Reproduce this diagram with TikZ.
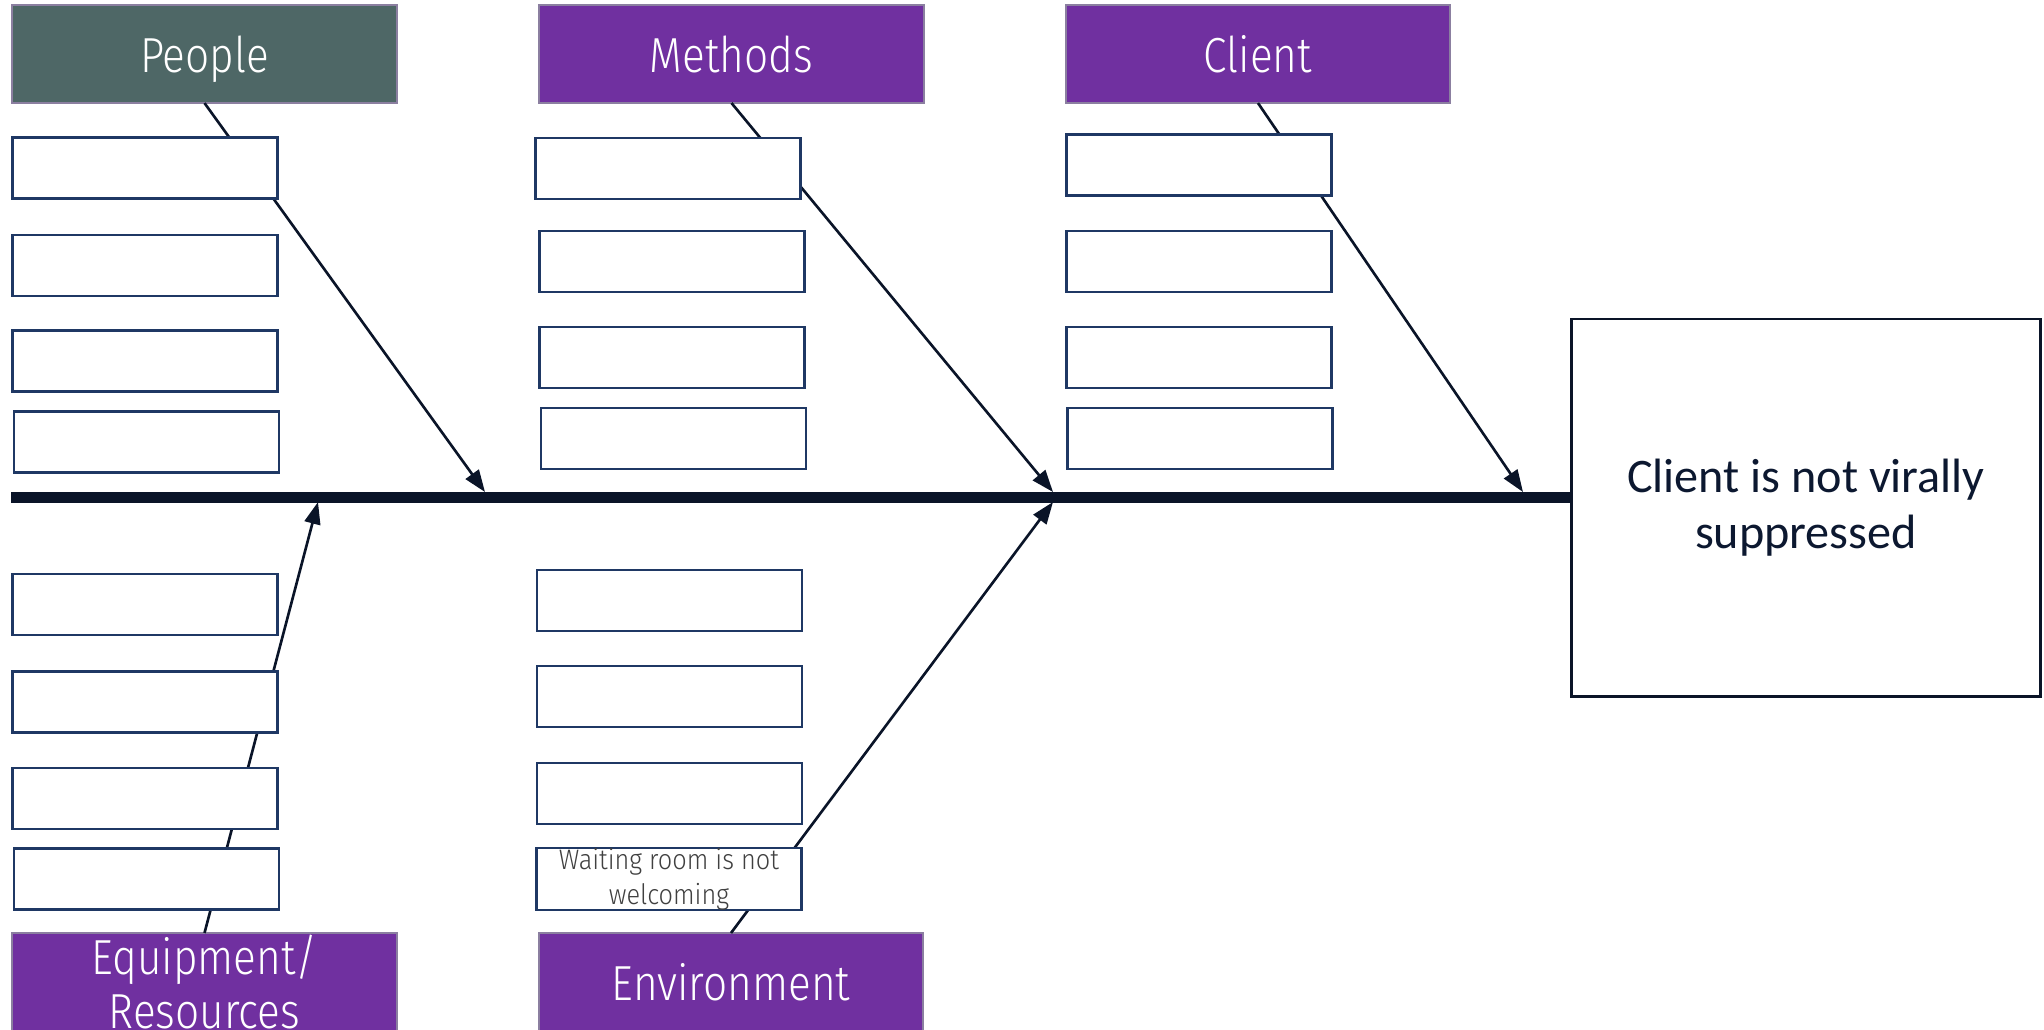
\documentclass[tikz,border=0pt]{standalone}
\usepackage{fontspec}
\setmainfont{Carlito}
\newfontfamily\catfont[FakeStretch=0.86]{Fira Sans Light}
\newfontfamily\smallfont[FakeStretch=0.9]{Fira Sans Light}
\usetikzlibrary{arrows.meta}
\definecolor{purp}{HTML}{7030A0}
\definecolor{peoplecol}{HTML}{4E6766}
\definecolor{catborder}{HTML}{8B7FA0}
\definecolor{itemborder}{HTML}{1F3864}
\definecolor{spinecol}{HTML}{0A1428}
\definecolor{maintext}{HTML}{0C1830}
\definecolor{graytext}{HTML}{404040}
\tikzset{
  catbox/.style={draw=catborder, line width=0.6pt, fill=purp, text=white,
    font=\catfont\fontsize{14}{15.6}\selectfont, minimum width=3.84cm,
    minimum height=0.98cm, inner sep=0pt, outer sep=0pt, align=center},
  itembox/.style={draw=itemborder, line width=0.75pt, fill=white,
    minimum width=2.65cm, minimum height=0.61cm, inner sep=0pt, outer sep=0pt, align=center},
  arr/.style={draw=spinecol, line width=0.75pt, -{Triangle[length=0.22cm,width=0.16cm]}},
  spineline/.style={draw=spinecol, line width=0.11cm},
}
\begin{document}
\begin{tikzpicture}[x=0.01cm,y=-0.01cm]
\useasboundingbox (0,0) rectangle (2044,1029);
% category boxes
\node[catbox, fill=peoplecol, text depth=0pt] (people) at (204.5,54) {People};
\node[catbox] (methods) at (731.5,54) {Methods};
\node[catbox] (client) at (1258,54) {Client};
\node[catbox] (equip) at (204.5,982) {Equipment/\\Resources};
\node[catbox] (env) at (731,982) {Environment};
% effect box
\node[draw=spinecol, line width=0.8pt, fill=white, minimum width=4.68cm, minimum height=3.77cm,
  inner sep=0pt, outer sep=0pt, align=center, text=maintext,
  font=\fontsize{13.7}{16}\selectfont] (main) at (1806,507.5) {Client is not virally\\suppressed};
% spine
\coordinate (s0) at (11,497);
\coordinate (s1) at (1572,497);
\draw[spineline] (s0) -- (s1);
% arrow tips
\coordinate (pT) at (485,492);
\coordinate (mT) at (1053,492);
\coordinate (cT) at (1523,492);
\coordinate (eT) at (318,502);
\coordinate (vT) at (1053,502);
\draw[arr] (people.south) -- (pT);
\draw[arr] (methods.south) -- (mT);
\draw[arr] (client.south) -- (cT);
\draw[arr] (equip.north) -- (eT);
\draw[arr] (env.north) -- (vT);
% item boxes
\node[itembox] (p1) at (145,168) {};
\node[itembox] (p2) at (145,265.5) {};
\node[itembox] (p3) at (145,361) {};
\node[itembox] (p4) at (146.5,442) {};
\node[itembox] (m1) at (668,168.5) {};
\node[itembox] (m2) at (672,261.5) {};
\node[itembox] (m3) at (672,357.5) {};
\node[itembox] (m4) at (673.5,438.5) {};
\node[itembox] (c1) at (1199,165) {};
\node[itembox] (c2) at (1199,261.5) {};
\node[itembox] (c3) at (1199,357.5) {};
\node[itembox] (c4) at (1200,438.5) {};
\node[itembox] (e1) at (145,604.5) {};
\node[itembox] (e2) at (145,702) {};
\node[itembox] (e3) at (145,798.5) {};
\node[itembox] (e4) at (146.5,879) {};
\node[itembox] (v1) at (669.5,600.5) {};
\node[itembox] (v2) at (669.5,696.5) {};
\node[itembox] (v3) at (669.5,793.5) {};
\node[itembox, text=graytext, font=\smallfont\fontsize{8}{10}\selectfont] (v4) at (669,879) {Waiting room is not\\welcoming};
\end{tikzpicture}
\end{document}
